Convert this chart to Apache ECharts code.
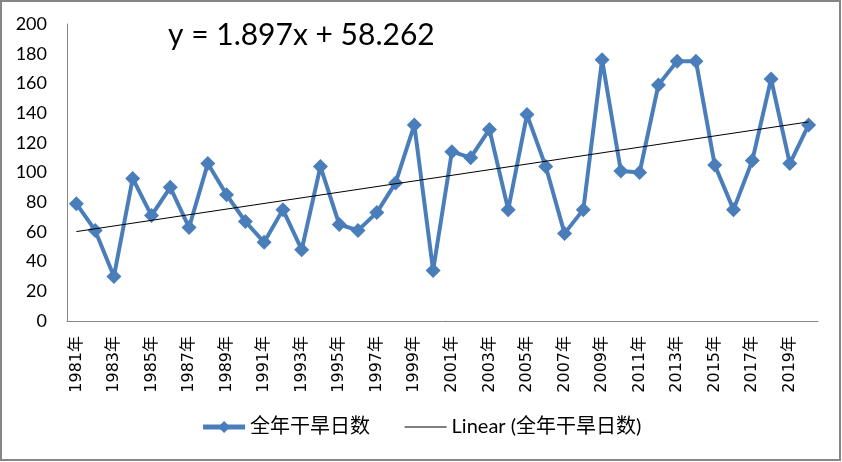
<!DOCTYPE html>
<html>
<head>
<meta charset="utf-8">
<script src="https://cdn.jsdelivr.net/npm/echarts@6/dist/echarts.min.js"></script>
<style>
  html, body { margin: 0; padding: 0; background: #fff; }
  #chart { width: 842px; height: 462px; }
</style>
</head>
<body>
<div id="chart"></div>
<script>
// ---- data ----
var years = ['1981年','1982年','1983年','1984年','1985年','1986年','1987年','1988年','1989年','1990年',
             '1991年','1992年','1993年','1994年','1995年','1996年','1997年','1998年','1999年','2000年',
             '2001年','2002年','2003年','2004年','2005年','2006年','2007年','2008年','2009年','2010年',
             '2011年','2012年','2013年','2014年','2015年','2016年','2017年','2018年','2019年','2020年'];
var droughtDays = [79, 61, 30, 96, 71, 90, 63, 106, 85, 67,
                   53, 75, 48, 104, 65, 61, 73, 93, 132, 34,
                   114, 110, 129, 75, 139, 104, 59, 75, 176, 101,
                   100, 159, 175, 175, 105, 75, 108, 163, 106, 132];
// trend line endpoints (first and last year)
var trendEnds = [60.2, 134.1];
var yTicks = [0, 20, 40, 60, 80, 100, 120, 140, 160, 180, 200];
var equationText = 'y = 1.897x + 58.262';
var seriesName = '全年干旱日数';
var trendName = 'Linear (全年干旱日数)';

var trendData = years.map(function (y, i) {
  if (i === 0) return trendEnds[0];
  if (i === years.length - 1) return trendEnds[1];
  return null;
});

var chart = echarts.init(document.getElementById('chart'), null, { renderer: 'canvas' });
var option = {
  backgroundColor: '#ffffff',
  animation: false,
  grid: { left: 67, right: 24, top: 24, bottom: 141, containLabel: false },
  legend: {
    bottom: 20,
    left: 'center',
    itemGap: 34,
    itemWidth: 42,
    itemHeight: 15,
    textStyle: { fontFamily: "Lato, 'Noto Sans CJK SC'", fontSize: 20, color: '#000' },
    data: [
      { name: seriesName, lineStyle: { width: 5 } },
      { name: trendName, itemStyle: { opacity: 0 }, lineStyle: { width: 1, color: '#000' } }
    ]
  },
  xAxis: {
    type: 'category',
    data: years,
    boundaryGap: true,
    axisLine: { show: true, lineStyle: { color: '#868686', width: 1 } },
    axisTick: { show: false },
    axisLabel: {
      interval: 1,
      rotate: 90,
      margin: 15,
      color: '#000',
      fontSize: 16,
      fontFamily: "'DejaVu Sans', 'Noto Sans CJK SC'"
    },
    splitLine: { show: false }
  },
  yAxis: {
    type: 'value',
    min: yTicks[0],
    max: yTicks[yTicks.length - 1],
    interval: 20,
    axisLine: { show: true, lineStyle: { color: '#868686', width: 1 } },
    axisTick: { show: false },
    axisLabel: { color: '#000', fontSize: 18, fontFamily: 'Lato', margin: 20 },
    splitLine: { show: false }
  },
  graphic: [
    {
      type: 'rect',
      shape: { x: 1, y: 1, width: 839, height: 459 },
      style: { fill: 'none', stroke: '#868686', lineWidth: 2 },
      silent: true
    },
    {
      type: 'text',
      left: 168,
      top: 20,
      style: { text: equationText, fontSize: 30, fontFamily: 'Lato', fill: '#000' }
    }
  ],
  series: [
    {
      name: seriesName,
      type: 'line',
      data: droughtDays,
      symbol: 'diamond',
      symbolSize: 15,
      showAllSymbol: true,
      lineStyle: { color: '#4A7EBB', width: 4 },
      itemStyle: { color: '#4A7EBB' },
      z: 2
    },
    {
      name: trendName,
      type: 'line',
      data: trendData,
      connectNulls: true,
      symbol: 'none',
      lineStyle: { color: '#000', width: 1 },
      itemStyle: { color: '#000' },
      z: 3
    }
  ]
};
chart.setOption(option);
</script>
</body>
</html>
